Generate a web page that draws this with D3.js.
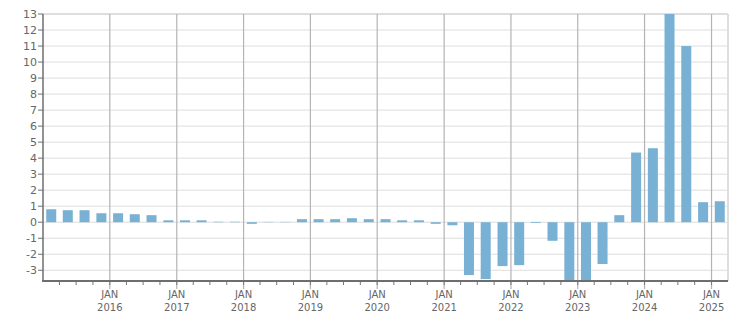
<!doctype html>
<html>
<head>
<style>
  body { margin: 0; background: #fff; }
  text { font-family: "DejaVu Sans", sans-serif; }
</style>
<script src="https://d3js.org/d3.v7.min.js"></script>
</head>
<body>
<div id="chart"></div>
<script>
// quarterly values, first bar = Q1 2015
var quarters = ["2015-01","2015-04","2015-07","2015-10","2016-01","2016-04","2016-07","2016-10",
  "2017-01","2017-04","2017-07","2017-10","2018-01","2018-04","2018-07","2018-10",
  "2019-01","2019-04","2019-07","2019-10","2020-01","2020-04","2020-07","2020-10",
  "2021-01","2021-04","2021-07","2021-10","2022-01","2022-04","2022-07","2022-10",
  "2023-01","2023-04","2023-07","2023-10","2024-01","2024-04","2024-07","2024-10","2025-01"];
var values = [0.81,0.75,0.75,0.56,0.56,0.5,0.44,0.12,
  0.12,0.12,0.03,0.03,-0.1,0.02,0.02,0.19,
  0.19,0.19,0.25,0.19,0.19,0.12,0.12,-0.1,
  -0.19,-3.3,-3.55,-2.74,-2.68,-0.05,-1.16,-3.9,
  -3.8,-2.61,0.44,4.35,4.62,13.2,11.0,1.25,1.31];
var yTicks = [-3,-2,-1,0,1,2,3,4,5,6,7,8,9,10,11,12,13];
var years = [2016,2017,2018,2019,2020,2021,2022,2023,2024,2025];

var W = 751, H = 313;
var m = {left: 43, right: 23, top: 14, bottom: 32};
var parse = d3.timeParse("%Y-%m");

var svg = d3.select("#chart").append("svg")
    .attr("width", W).attr("height", H);

var x = d3.scaleTime()
    .domain([parse("2015-01"), parse("2025-04")])
    .range([m.left, W - m.right]);
var y = d3.scaleLinear()
    .domain([-3.67, 13])
    .range([H - m.bottom, m.top]);

// horizontal grid
svg.append("g").selectAll("line").data(yTicks).join("line")
    .attr("x1", m.left).attr("x2", W - m.right)
    .attr("y1", d => y(d)).attr("y2", d => y(d))
    .attr("stroke", "#dedede").attr("stroke-width", d => d == 13 ? 2 : 1);

// right border
svg.append("line")
    .attr("x1", W - m.right).attr("x2", W - m.right)
    .attr("y1", m.top).attr("y2", H - m.bottom)
    .attr("stroke", "#dedede").attr("stroke-width", 2);

// vertical grid at each january
var jans = years.map(d => new Date(d, 0, 1));
svg.append("g").selectAll("line").data(jans).join("line")
    .attr("x1", d => x(d)).attr("x2", d => x(d))
    .attr("y1", m.top).attr("y2", H - m.bottom + 8)
    .attr("stroke", "#b4b4b4").attr("stroke-width", 1.2);

// bars, centered in each quarter, clipped to plot
svg.append("clipPath").attr("id", "clip").append("rect")
    .attr("x", m.left).attr("y", m.top)
    .attr("width", W - m.left - m.right).attr("height", H - m.top - m.bottom);

var bw = 10;
svg.append("g").attr("clip-path", "url(#clip)")
    .selectAll("rect").data(quarters).join("rect")
    .attr("x", (d, i) => {
        var a = parse(d), b = d3.timeMonth.offset(a, 3);
        return (x(a) + x(b)) / 2 - bw / 2;
    })
    .attr("y", (d, i) => y(Math.max(0, values[i])))
    .attr("width", bw)
    .attr("height", (d, i) => Math.abs(y(values[i]) - y(0)))
    .attr("fill", "#78b1d3");

// quarter ticks on bottom axis
var qt = d3.timeMonth.every(3).range(parse("2015-04"), parse("2025-04"));
svg.append("g").selectAll("line").data(qt).join("line")
    .attr("x1", d => x(d)).attr("x2", d => x(d))
    .attr("y1", H - m.bottom).attr("y2", H - m.bottom + 4)
    .attr("stroke", "#777");

// bottom axis line
svg.append("line")
    .attr("x1", m.left - 1).attr("x2", W - m.right)
    .attr("y1", H - m.bottom).attr("y2", H - m.bottom)
    .attr("stroke", "#6e6e6e").attr("stroke-width", 2);

// left axis
svg.append("line")
    .attr("x1", m.left).attr("x2", m.left)
    .attr("y1", m.top).attr("y2", H - m.bottom)
    .attr("stroke", "#6e6e6e").attr("stroke-width", 1.5);
var yl = svg.append("g").selectAll("g").data(yTicks).join("g")
    .attr("transform", d => "translate(0," + y(d) + ")");
yl.append("line").attr("x1", m.left - 5).attr("x2", m.left)
    .attr("stroke", "#6e6e6e");
yl.append("text")
    .attr("x", m.left - 6).attr("dy", "0.35em")
    .attr("text-anchor", "end")
    .attr("font-size", "11px").attr("fill", "#666")
    .text(d => d);

// year labels
var xl = svg.append("g").selectAll("g").data(jans).join("g")
    .attr("transform", d => "translate(" + x(d) + ",0)");
xl.append("text").attr("y", 298).attr("text-anchor", "middle")
    .attr("font-size", "10px").attr("fill", "#666").text("JAN");
xl.append("text").attr("y", 311).attr("text-anchor", "middle")
    .attr("font-size", "10px").attr("fill", "#666").text(d => d.getFullYear());
</script>
</body>
</html>
